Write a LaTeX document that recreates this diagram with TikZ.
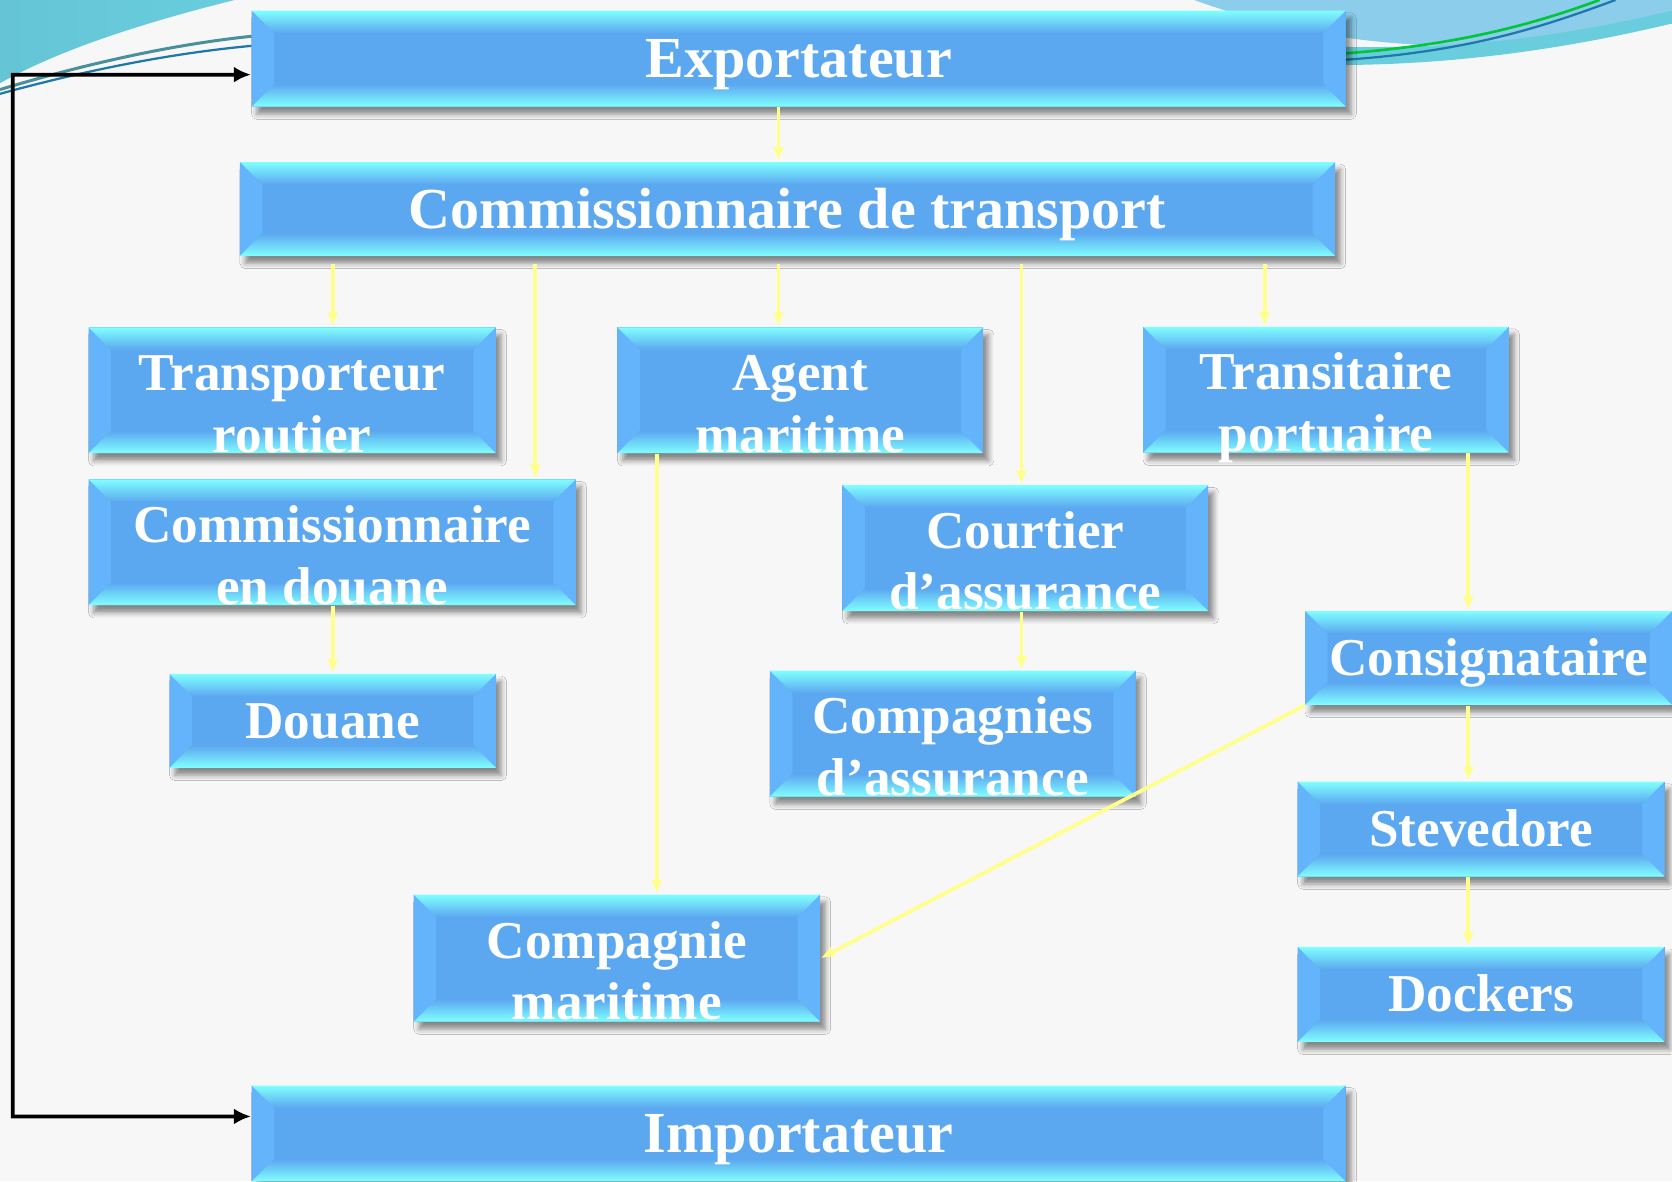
\documentclass[tikz,border=0pt]{standalone}
\usepackage{fontspec}
\setmainfont{Liberation Serif}
\usetikzlibrary{arrows.meta,positioning,shadows.blur}
\definecolor{boxblue}{RGB}{92,168,240}
\definecolor{boxcyan}{RGB}{128,255,255}
\definecolor{boxside}{RGB}{100,180,252}
\definecolor{linkyellow}{RGB}{255,255,140}
\definecolor{swteal}{RGB}{105,205,222}
\definecolor{swblue}{RGB}{140,205,235}
\definecolor{swdark}{RGB}{30,120,170}

\begin{document}
\begin{tikzpicture}[x=0.1mm,y=-0.1mm,
	>={Latex[length=1.3mm,width=1.1mm]},
	bloc/.style={minimum width=#1,minimum height=8.8mm,inner sep=0pt,fill=boxblue,text=white,
		font=\fontsize{14.2}{16.5}\selectfont\bfseries,align=center,text height=9.4pt,text depth=0pt,
		blur shadow={shadow xshift=0.5mm,shadow yshift=-0.7mm,shadow blur radius=0.5mm,shadow opacity=45},
		path picture={
			\fill[boxside] (path picture bounding box.north west) -- (path picture bounding box.south west)
				-- ++(2.1mm,2.1mm) -- ([shift={(2.1mm,-2.1mm)}]path picture bounding box.north west) -- cycle;
			\fill[boxside] (path picture bounding box.north east) -- (path picture bounding box.south east)
				-- ++(-2.1mm,2.1mm) -- ([shift={(-2.1mm,-2.1mm)}]path picture bounding box.north east) -- cycle;
			\shade[top color=boxcyan,bottom color=boxblue] (path picture bounding box.north west) -- (path picture bounding box.north east)
				-- ++(-2.1mm,-2.1mm) -- ([shift={(2.1mm,-2.1mm)}]path picture bounding box.north west) -- cycle;
			\shade[top color=boxblue,bottom color=boxcyan] (path picture bounding box.south west) -- (path picture bounding box.south east)
				-- ++(-2.1mm,2.1mm) -- ([shift={(2.1mm,2.1mm)}]path picture bounding box.south west) -- cycle;
		}},
	bloc2/.style={bloc=#1,minimum height=11.8mm,text height=33pt},
	grand/.style={bloc=#1,minimum height=9mm,font=\fontsize{15.5}{16.5}\selectfont\bfseries,text height=10.3pt},
	lien/.style={->,draw=linkyellow,line width=1pt},
	retour/.style={<->,line width=1pt,>={Latex[length=1.6mm,width=1.5mm]}}]
	\useasboundingbox (0,0) rectangle (1568,1108);
	\fill[black!3] (0,0) rectangle (1568,1108);
	% swooshes
	\shade[left color=swteal!80!black!20!swteal,right color=swteal] (0,0) -- (220,0) .. controls (120,25) and (50,50) .. (0,78) -- cycle;
	\draw[swteal!70!black,line width=0.8pt] (0,84) .. controls (80,60) and (160,42) .. (236,34);
	\draw[swdark,line width=0.6pt] (0,88) .. controls (80,66) and (160,50) .. (236,43);
	\fill[swblue] (1120,0) .. controls (1230,40) and (1380,62) .. (1568,22) -- (1568,0) -- cycle;
	\fill[swteal] (1262,44) .. controls (1400,46) and (1490,28) .. (1568,10) -- (1568,22) .. controls (1460,48) and (1360,60) .. (1262,61) -- cycle;
	\draw[green!55!teal,line width=0.7pt] (1262,50) .. controls (1370,42) and (1440,22) .. (1500,0);
	\draw[swdark,line width=0.6pt] (1262,56) .. controls (1380,48) and (1450,24) .. (1515,0);

	\node[grand=102.6mm] (expo) at (749,55) {Exportateur};
	\node[grand=102.7mm,minimum height=8.8mm] (cdt) at (738.5,196) {Commissionnaire de transport};
	\node[bloc2=38.2mm] (troutier) at (274,366) {Transporteur\\routier};
	\node[bloc2=34.3mm] (agent) at (750.5,366) {Agent\\maritime};
	\node[bloc2=34.3mm] (transit) at (1243.5,365.5) {Transitaire\\portuaire};
	\node[bloc2=45.7mm] (cdouane) at (311.5,508.5) {Commissionnaire\\en douane};
	\node[bloc2=34.3mm] (courtier) at (961.5,514) {Courtier\\d’assurance};
	\node[bloc=34.4mm] (consig) at (1396,617) {Consignataire};
	\node[bloc=30.6mm] (douane) at (312,676) {Douane};
	\node[bloc2=34.3mm] (cass) at (893.5,688) {Compagnies\\d’assurance};
	\node[bloc=34.4mm,minimum height=8.9mm] (steve) at (1389,777.5) {Stevedore};
	\node[bloc2=38.1mm,minimum height=11.9mm] (cmar) at (578.5,898.5) {Compagnie\\maritime};
	\node[bloc=34.4mm,minimum height=8.9mm] (dock) at (1389,932.5) {Dockers};
	\node[grand=102.6mm] (impo) at (749,1063) {Importateur};

	\draw[lien] (expo.south -| 730,0) to (cdt.north -| 730,0);
	\draw[lien,shorten <=0.7mm] (cdt.south -| 312,0) to (troutier.north -| 312,0);
	\draw[lien,shorten <=0.7mm] (cdt.south -| 502,0) to (cdouane.north -| 502,0);
	\draw[lien,shorten <=0.7mm] (cdt.south -| 730,0) to (agent.north -| 730,0);
	\draw[lien,shorten <=0.7mm] (cdt.south -| 958,0) to (courtier.north -| 958,0);
	\draw[lien,shorten <=0.7mm] (cdt.south -| 1186,0) to (transit.north -| 1186,0);
	\draw[lien] (agent.south -| 616,0) to (cmar.north -| 616,0);
	\draw[lien] (transit.south -| 1377,0) to (consig.north -| 1377,0);
	\draw[lien] (cdouane.south -| 312,0) to (douane.north -| 312,0);
	\draw[lien] (courtier.south -| 958,0) to (cass.north -| 958,0);
	\draw[lien] (consig.south west) to (cmar.east);
	\draw[lien] (consig.south -| 1377,0) to (steve.north -| 1377,0);
	\draw[lien] (steve.south -| 1377,0) to (dock.north -| 1377,0);

	\coordinate (coin) at (12,70);
	\draw[retour] ([yshift=-1.5mm]expo.west) -- (coin) |- ([yshift=1.6mm]impo.west);
\end{tikzpicture}
\end{document}
